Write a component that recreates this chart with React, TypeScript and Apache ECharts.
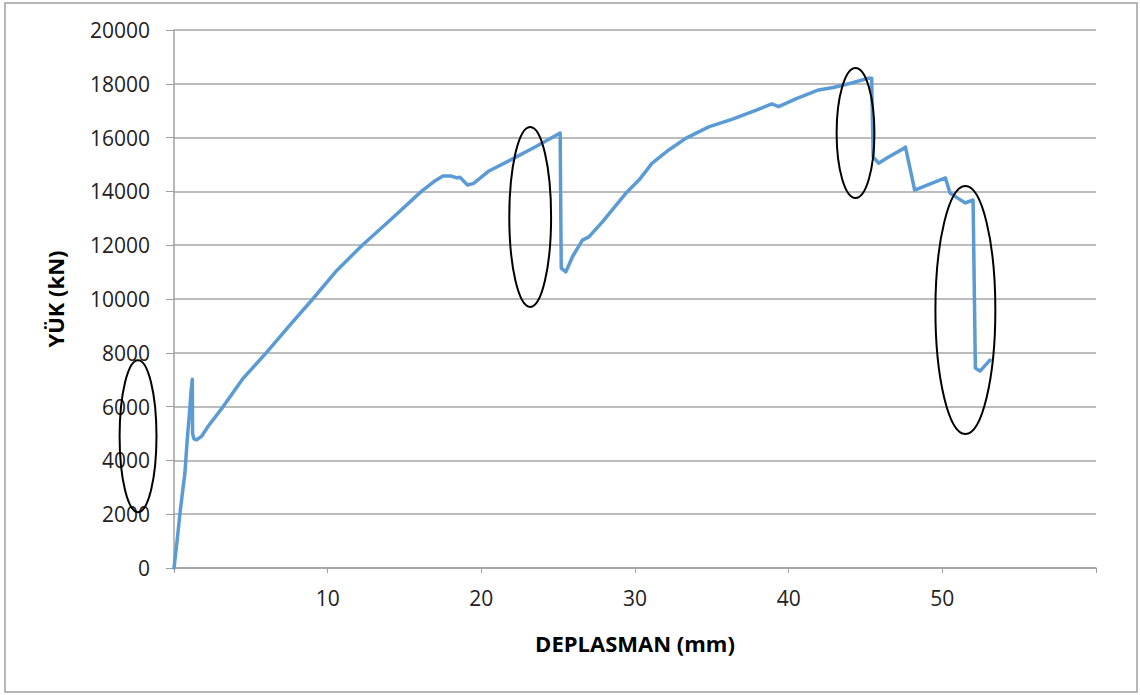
import React, { useEffect, useRef } from "react";
import * as echarts from "echarts";

const displacement = [
  0, 0.2, 0.39, 0.55, 0.71, 0.86, 1.04, 1.1, 1.19, 1.21, 1.3, 1.47, 1.8, 2.2,
  3.2, 4.5, 6.0, 7.5, 9.03, 10.5, 12.25, 14.2, 16.1, 17.0, 17.5, 18.05, 18.4, 18.6, 19.1,
  19.5, 20.5, 22.0, 23.5, 25.13, 25.2, 25.5, 25.93, 26.58, 27.0, 27.88, 29.4, 30.26, 31.1,
  32.2, 33.3, 34.8, 36.3, 37.6, 38.9, 39.35, 40.5, 41.95,
  42.9, 44.1, 45.2, 45.4, 45.5, 45.85, 46.5, 47.5, 47.6, 48.2, 49.3, 50.2, 50.5, 51.0,
  51.5, 52.0, 52.15, 52.45, 53.1,
];
const load = [
  0, 1000, 2040, 2800, 3530, 4760, 6000, 6500, 7020, 5000, 4800, 4760, 4900, 5250,
  6000, 7050, 8000, 9000, 10000, 11000, 12000, 13000, 14000, 14400, 14570, 14570, 14500, 14530, 14240,
  14300, 14760, 15200, 15650, 16170, 11150, 11010, 11570, 12190, 12310, 12870, 13930, 14420, 15040,
  15540, 15970, 16400, 16680, 16960, 17250, 17150, 17450, 17770,
  17860, 18030, 18210, 18210, 15280, 15050, 15280, 15600, 15650, 14050, 14300, 14500, 13940, 13750,
  13570, 13680, 7430, 7320, 7730,
];

// annotation ellipses in data units: centre x, centre y, radius x, radius y
const ellipseCx = [-2.34, 23.18, 44.35, 51.5];
const ellipseCy = [4900, 13050, 16170, 9590];
const ellipseRx = [1.2, 1.36, 1.23, 1.95];
const ellipseRy = [2825, 3345, 2416, 4609];

const FONT = "Open Sans";

export default function App() {
  const ref = useRef<HTMLDivElement>(null);
  useEffect(() => {
    if (!ref.current) return;
    const chart = echarts.init(ref.current, undefined, { renderer: "svg" });
    const data = displacement.map((x, i) => [x, load[i]]);
    chart.setOption({
      animation: false,
      backgroundColor: "#fff",
      grid: { left: 174, right: 44, top: 30, bottom: 127 },
      xAxis: {
        type: "value",
        min: 0,
        max: 60,
        interval: 10,
        name: "DEPLASMAN (mm)",
        nameLocation: "middle",
        nameGap: 64,
        nameTextStyle: { fontFamily: FONT, fontSize: 22, fontWeight: "bold", color: "#000" },
        axisLine: { show: true, lineStyle: { color: "#a0a0a0", width: 1.5 } },
        axisTick: { show: true, length: 5, lineStyle: { color: "#a0a0a0" } },
        axisLabel: {
          fontFamily: FONT,
          fontSize: 21,
          color: "#222",
          margin: 19,
          formatter: (v: number) => (v === 0 || v === 60 ? "" : String(v)),
        },
        splitLine: { show: false },
      },
      yAxis: {
        type: "value",
        min: 0,
        max: 20000,
        interval: 2000,
        name: "YÜK (kN)",
        nameLocation: "middle",
        nameGap: 108,
        nameTextStyle: { fontFamily: FONT, fontSize: 22, fontWeight: "bold", color: "#000" },
        axisLine: { show: true, lineStyle: { color: "#a0a0a0", width: 1.5 } },
        axisTick: { show: true, length: 8, lineStyle: { color: "#a0a0a0" } },
        axisLabel: {
          fontFamily: FONT,
          fontSize: 21,
          color: "#222",
          margin: 24,
          formatter: (v: number) => String(v),
        },
        splitLine: { show: true, lineStyle: { color: "#a6a6a6", width: 1.5 } },
      },
      series: [
        {
          type: "line",
          data,
          showSymbol: false,
          symbol: "none",
          lineStyle: { color: "#5B9BD5", width: 3.5, join: "round", cap: "round" },
        },
      ],
    });
    const ellipses = ellipseCx.map((cx, i) => {
      const c = chart.convertToPixel({ gridIndex: 0 }, [cx, ellipseCy[i]]) as number[];
      const ex = chart.convertToPixel({ gridIndex: 0 }, [cx + ellipseRx[i], ellipseCy[i]]) as number[];
      const ey = chart.convertToPixel({ gridIndex: 0 }, [cx, ellipseCy[i] + ellipseRy[i]]) as number[];
      return {
        type: "ellipse",
        shape: { cx: c[0], cy: c[1], rx: ex[0] - c[0], ry: c[1] - ey[1] },
        style: { fill: "none", stroke: "#000", lineWidth: 2 },
        z: 100,
      };
    });
    chart.setOption({
      graphic: [
        {
          type: "rect",
          shape: { x: 5, y: 3, width: 1132, height: 689 },
          style: { fill: "none", stroke: "#a0a0a0", lineWidth: 1.5 },
          z: 90,
        },
        ...ellipses,
      ],
    });
    return () => chart.dispose();
  }, []);
  return (
    <div
      ref={ref}
      style={{ position: "fixed", left: 0, top: 0, width: 1140, height: 695 }}
    />
  );
}
